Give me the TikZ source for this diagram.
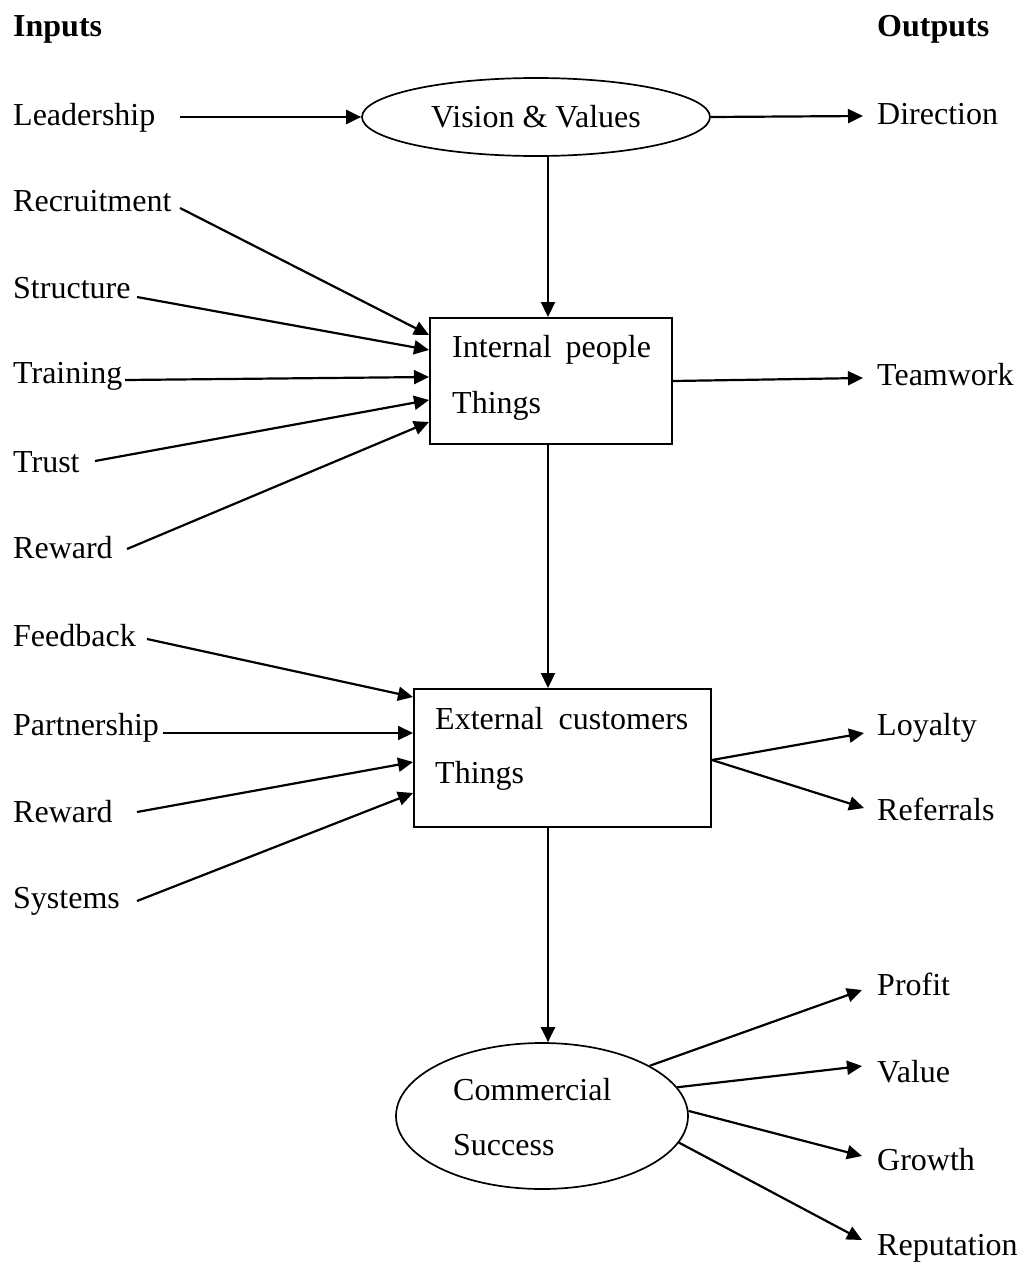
\documentclass[tikz,border=0pt]{standalone}
\usepackage{fontspec}
\setmainfont{Liberation Serif}
\usetikzlibrary{arrows.meta,shapes.geometric,calc}

\begin{document}
\begin{tikzpicture}[x=1pt,y=-1pt,
  font=\fontsize{32}{38}\selectfont,
  lbl/.style={anchor=base west,inner sep=0pt},
  conn/.style={line width=2.2pt,-{Triangle[length=15pt,width=14pt]}},
  frame/.style={draw,line width=2pt,rectangle,inner sep=0pt},
  oval/.style={draw,line width=1.7pt,ellipse,inner sep=0pt}]
\useasboundingbox (0,0) rectangle (1022,1264);

% column headings
\node[lbl] (inputs)  at (13,36)  {\textbf{Inputs}};
\node[lbl] (outputs) at (877,36) {\textbf{Outputs}};

% central chain
\node[oval,minimum width=348pt,minimum height=78pt] (vv) at (536,117) {Vision \& Values};

\node[frame,minimum width=242pt,minimum height=126pt] (ip) at (551,381) {};
\node[lbl] (ipa) at (452,357) {Internal\hspace{14pt}people};
\node[lbl] (ipb) at (452,413) {Things};

\node[frame,minimum width=297pt,minimum height=138pt] (eb) at (562.5,758) {};
\node[lbl] (eba) at (435,729) {External\hspace{15pt}customers};
\node[lbl] (ebb) at (435,783) {Things};

\node[oval,minimum width=292pt,minimum height=146pt] (cs) at (542,1116) {};
\node[lbl] (csa) at (453,1100) {Commercial};
\node[lbl] (csb) at (453,1155) {Success};

% inputs
\node[lbl] (lead)  at (13,125) {Leadership};
\node[lbl] (recr)  at (13,211) {Recruitment};
\node[lbl] (struc) at (13,298) {Structure};
\node[lbl] (train) at (13,383) {Training};
\node[lbl] (trust) at (13,472) {Trust};
\node[lbl] (rewa)  at (13,558) {Reward};
\node[lbl] (feed)  at (13,646) {Feedback};
\node[lbl] (part)  at (13,735) {Partnership};
\node[lbl] (rewb)  at (13,822) {Reward};
\node[lbl] (syst)  at (13,908) {Systems};

% outputs
\node[lbl] (dir)   at (877,124)  {Direction};
\node[lbl] (team)  at (877,385)  {Teamwork};
\node[lbl] (loyal) at (877,735)  {Loyalty};
\node[lbl] (refer) at (877,820)  {Referrals};
\node[lbl] (prof)  at (877,995)  {Profit};
\node[lbl] (valu)  at (877,1082) {Value};
\node[lbl] (grow)  at (877,1170) {Growth};
\node[lbl] (reput) at (877,1255) {Reputation};

% spine
\draw[conn] ([xshift=12pt]vv.south) -- ([xshift=-3pt]ip.north);
\draw[conn] ([xshift=-3pt]ip.south) -- ([xshift=-14.5pt]eb.north);
\draw[conn] ([xshift=-14.5pt]eb.south) -- ([xshift=6pt]cs.north);

% inputs into the chain
\draw[conn] ($(lead.base west)+(167,-8)$) -- (vv.west);
\draw[conn] ($(recr.base west)+(167,-3)$)  -- ($(ip.west)+(0,-46)$);
\draw[conn] ($(struc.base west)+(124,-1)$) -- ($(ip.west)+(0,-31)$);
\draw[conn] ($(train.base west)+(112,-3)$) -- ($(ip.west)+(0,-4)$);
\draw[conn] ($(trust.base west)+(82,-11)$) -- ($(ip.west)+(0,19)$);
\draw[conn] ($(rewa.base west)+(114,-9)$)  -- ($(ip.west)+(0,41)$);

\draw[conn] ($(feed.base west)+(134,-7)$)  -- ($(eb.west)+(0,-61)$);
\draw[conn] ($(part.base west)+(150,-2)$)  -- ($(eb.west)+(0,-25)$);
\draw[conn] ($(rewb.base west)+(124,-10)$) -- ($(eb.west)+(0,4)$);
\draw[conn] ($(syst.base west)+(124,-7)$)  -- ($(eb.west)+(0,35)$);

% outputs from the chain
\draw[conn] (vv.east) -- ($(dir.base west)+(-14,-8)$);
\draw[conn] (ip.east) -- ($(team.base west)+(-14,-7)$);
\draw[conn] ($(eb.east)+(0,2)$) -- ($(loyal.base west)+(-13,-2)$);
\draw[conn] ($(eb.east)+(0,2)$) -- ($(refer.base west)+(-13,-12)$);
\draw[conn] (cs.25)  -- ($(prof.base west)+(-15,-5)$);
\draw[conn] (cs.12)  -- ($(valu.base west)+(-15,-16)$);
\draw[conn] (cs.2)   -- ($(grow.base west)+(-15,-14)$);
\draw[conn] (cs.-11) -- ($(reput.base west)+(-15,-15)$);
\end{tikzpicture}
\end{document}
